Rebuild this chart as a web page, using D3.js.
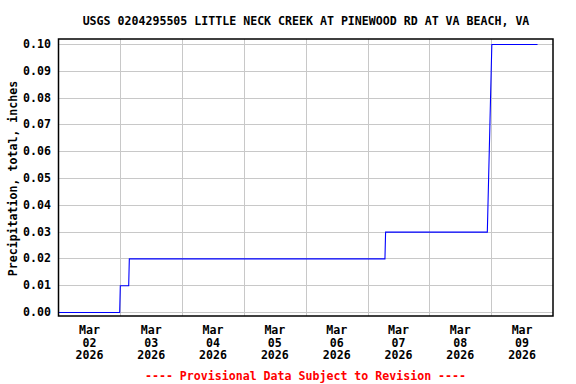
<!DOCTYPE html>
<html><head><meta charset="utf-8">
<script src="https://cdn.jsdelivr.net/npm/d3@7"></script>
<style>
html,body{margin:0;padding:0;background:#fff;}
svg text{font-family:"DejaVu Sans Mono",monospace;font-weight:bold;font-size:11.6px;}
</style></head>
<body><svg id="c" width="576" height="384"></svg>
<script>
const title = "USGS 0204295505 LITTLE NECK CREEK AT PINEWOOD RD AT VA BEACH, VA";
const yLabel = "Precipitation, total, inches";
const footer = "---- Provisional Data Subject to Revision ----";
const times = ["2026-03-02 00:00","2026-03-02 23:45","2026-03-03 00:00","2026-03-03 03:15","2026-03-03 03:30",
  "2026-03-07 06:45","2026-03-07 07:00","2026-03-08 22:30","2026-03-08 22:45","2026-03-08 23:00","2026-03-08 23:15",
  "2026-03-08 23:30","2026-03-08 23:45","2026-03-09 00:00","2026-03-09 00:15","2026-03-09 18:00"];
const values = [0.00,0.00,0.01,0.01,0.02,0.02,0.03,0.03,0.04,0.05,0.06,0.07,0.08,0.09,0.10,0.10];
const yTicks = [0.00,0.01,0.02,0.03,0.04,0.05,0.06,0.07,0.08,0.09,0.10];
const tickDays = ["2026-03-02","2026-03-03","2026-03-04","2026-03-05","2026-03-06","2026-03-07","2026-03-08","2026-03-09"];
const tickMonth = ["Mar","Mar","Mar","Mar","Mar","Mar","Mar","Mar"];
const tickDay = ["02","03","04","05","06","07","08","09"];
const tickYear = ["2026","2026","2026","2026","2026","2026","2026","2026"];

const parseT = d3.utcParse("%Y-%m-%d %H:%M");
const parseD = d3.utcParse("%Y-%m-%d");
const data = times.map((t,i)=>({t:parseT(t), v:values[i]}));
const days = tickDays.map(parseD);
const svg = d3.select("#c");
const L=58.5, R=553, T=39, B=316;
const x = d3.scaleUtc().domain([days[0], d3.utcDay.offset(days[days.length-1],1)]).range([L,R]);
const y = d3.scaleLinear().domain([0,0.1]).range([312,44]);

// grid
const g = svg.append("g").attr("shape-rendering","crispEdges");
g.selectAll(".hg").data(yTicks).enter().append("line")
  .attr("x1",L).attr("x2",R).attr("y1",d=>Math.round(y(d))+0.5).attr("y2",d=>Math.round(y(d))+0.5)
  .attr("stroke","#c8c8c8").attr("stroke-width",1);
g.selectAll(".vg").data(days.slice(1)).enter().append("line")
  .attr("y1",T).attr("y2",B).attr("x1",d=>Math.round(x(d))+0.5).attr("x2",d=>Math.round(x(d))+0.5)
  .attr("stroke","#c8c8c8").attr("stroke-width",1);

// line
const line = d3.line().x(d=>x(d.t)).y(d=>y(d.v)+0.5);
svg.append("path").datum(data).attr("d",line).attr("fill","none")
  .attr("stroke","#0000ff").attr("stroke-width",1.1);

// frame
svg.append("rect").attr("x",L).attr("y",T).attr("width",R-L).attr("height",B-T)
  .attr("fill","none").attr("stroke","#000").attr("stroke-width",1.5);

// y ticks
svg.selectAll(".yt").data(yTicks).enter().append("text")
  .attr("x",51).attr("y",d=>y(d)+4).attr("text-anchor","end").text(d=>d.toFixed(2));

// x ticks at noon
const xl = svg.selectAll(".xt").data(days).enter().append("text")
  .attr("text-anchor","middle")
  .attr("transform",d=>`translate(${x(d3.utcHour.offset(d,12))},0)`);
xl.append("tspan").attr("x",0).attr("y",334).text((d,i)=>tickMonth[i]);
xl.append("tspan").attr("x",0).attr("y",346.7).text((d,i)=>tickDay[i]);
xl.append("tspan").attr("x",0).attr("y",359.4).text((d,i)=>tickYear[i]);

svg.append("text").attr("x",306).attr("y",24.5).attr("text-anchor","middle").text(title);
svg.append("text").attr("x",305.5).attr("y",379.5).attr("text-anchor","middle").attr("fill","#ff0000").text(footer);
svg.append("text").attr("transform","translate(16.5,178.5) rotate(-90)").attr("text-anchor","middle").text(yLabel);
</script></body></html>
